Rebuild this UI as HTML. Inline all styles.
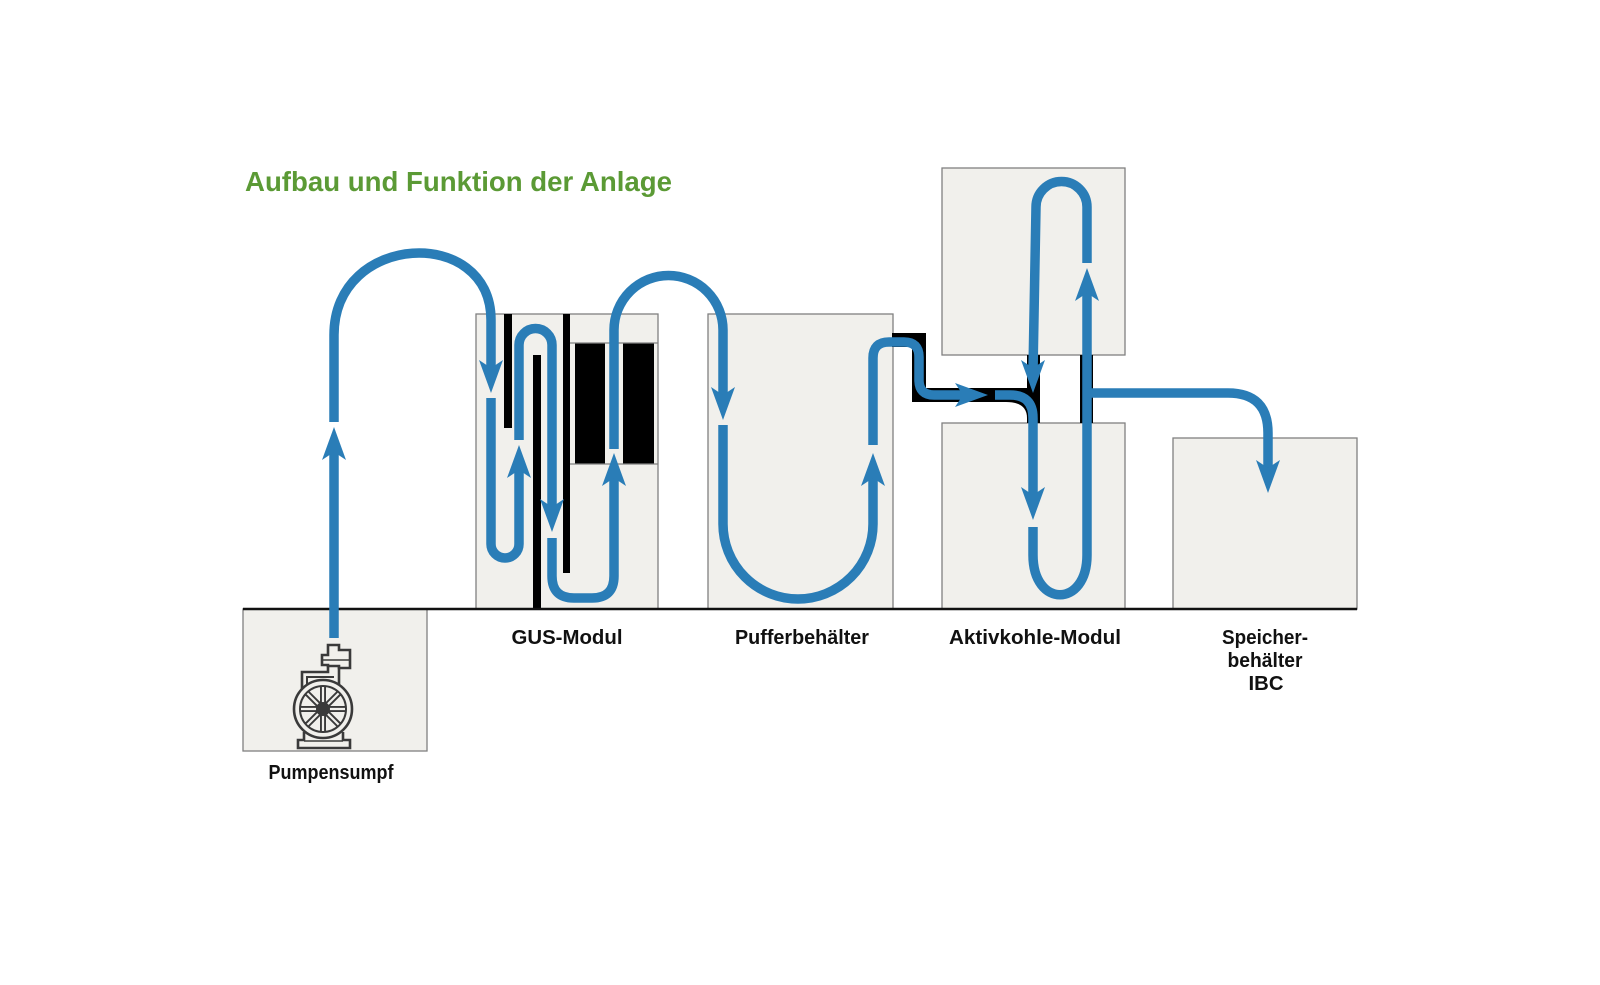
<!DOCTYPE html>
<html>
<head>
<meta charset="utf-8">
<style>
  html, body { margin:0; padding:0; background:#ffffff; }
  svg { display:block; }
  text { font-family: "Liberation Sans", "DejaVu Sans", sans-serif; font-weight: bold; }
</style>
</head>
<body>
<svg width="1600" height="985" viewBox="0 0 1600 985" xmlns="http://www.w3.org/2000/svg">
  <rect x="0" y="0" width="1600" height="985" fill="#ffffff"/>

  <!-- Title -->
  <text x="245" y="191" font-size="28" fill="#5b9a35" textLength="427" lengthAdjust="spacingAndGlyphs">Aufbau und Funktion der Anlage</text>

  <!-- Boxes -->
  <g fill="#f1f0ec" stroke="#808080" stroke-width="1.3">
    <rect x="243" y="609" width="184" height="142"/>
    <rect x="476" y="314" width="182" height="295"/>
    <rect x="708" y="314" width="185" height="295"/>
    <rect x="942" y="168" width="183" height="187"/>
    <rect x="942" y="423" width="183" height="186"/>
    <rect x="1173" y="438" width="184" height="171"/>
  </g>

  <!-- GUS internals -->
  <g fill="#000">
    <rect x="504" y="314" width="8" height="114"/>
    <rect x="533" y="355" width="8" height="254"/>
    <rect x="563" y="314" width="7" height="259"/>
    <rect x="575" y="343" width="30" height="121"/>
    <rect x="623" y="343" width="31" height="121"/>
  </g>
  <g stroke="#808080" stroke-width="1.3">
    <line x1="570" y1="343" x2="658" y2="343"/>
    <line x1="570" y1="464" x2="658" y2="464"/>
  </g>

  <!-- Black housing / connectors -->
  <path d="M892,340 L919,340 L919,395 L1002,395" fill="none" stroke="#000" stroke-width="14" stroke-linejoin="miter"/>
  <path d="M998,388 L1040,388 L1040,423 L1027,423 L1027,418 Q1027,402 1006,402 L998,402 Z" fill="#000"/>
  <rect x="1027" y="355" width="13" height="68" fill="#000"/>
  <rect x="1080" y="355" width="13" height="68" fill="#000"/>

  <!-- Baseline -->
  <line x1="243" y1="609" x2="1357" y2="609" stroke="#111" stroke-width="2.5"/>

  <!-- Pipes -->
  <g fill="none" stroke="#2a7db7" stroke-width="9.5" stroke-linecap="butt" stroke-linejoin="round">
    <path d="M334,638 L334,449"/>
    <path d="M334,422 L334,335 C334,232 491,225 491,320 L491,371"/>
    <path d="M491,398 L491,544 A14,14 0 0 0 519,544 L519,467"/>
    <path d="M519,440 L519,345 A16.5,16.5 0 0 1 552,345 L552,510"/>
    <path d="M552,538 L552,576 Q552,598 574,598 L592,598 Q614,598 614,576 L614,475"/>
    <path d="M614,449 L614,330 A54.5,54.5 0 0 1 723,330 L723,398"/>
    <path d="M723,425 L723,524 A75,75 0 0 0 873,524 L873,475"/>
    <path d="M873,445 L873,358 Q873,342 889,342 L904,342 Q919,342 919,357 L919,380 Q919,395 934,395 L966,395"/>
    <path d="M995,395 L1010,395 Q1033,395 1033,418 L1033,498"/>
    <path d="M1033,527 L1033,555 C1033,608 1087,608 1087,555 L1087,290"/>
    <path d="M1087,263 L1087,207 A25.5,25.5 0 0 0 1036,207 L1033,371"/>
    <path d="M1087,393 L1228,393 Q1268,393 1268,433 L1268,471"/>
  </g>

  <!-- Arrowheads -->
  <g fill="#2a7db7">
    <polygon points="334,427 346,460 334,452 322,460"/>
    <polygon points="519,445 531,478 519,470 507,478"/>
    <polygon points="614,453 626,486 614,478 602,486"/>
    <polygon points="873,453 885,486 873,478 861,486"/>
    <polygon points="1087,268 1099,301 1087,293 1075,301"/>
    <polygon points="491,393 503,360 491,368 479,360"/>
    <polygon points="552,532 564,499 552,507 540,499"/>
    <polygon points="723,420 735,387 723,395 711,387"/>
    <polygon points="1033,393 1045,360 1033,368 1021,360"/>
    <polygon points="1033,520 1045,487 1033,495 1021,487"/>
    <polygon points="1268,493 1280,460 1268,468 1256,460"/>
    <polygon points="988,395 955,383 963,395 955,407"/>
  </g>

  <!-- Pump icon -->
  <g fill="#f1f0ec" stroke="#3a3a3a" stroke-width="2.6" stroke-linejoin="miter">
    <path d="M304,732 L304,740 L298,740 L298,748 L350,748 L350,740 L343,740 L343,732"/>
    <line x1="304" y1="741" x2="343" y2="741" stroke-width="1.6"/>
    <path d="M328,664 L328,672 L302,672 L302,692" fill="none"/>
    <path d="M334,677 L307,677 L307,690" fill="none" stroke-width="2"/>
    <line x1="339" y1="666" x2="339" y2="688"/>
    <path d="M328,645 L339,645 L339,650 L350,650 L350,668 L339,668 L339,666 L328,666 L328,665 L322,665 L322,655 L328,655 Z"/>
    <line x1="322" y1="660" x2="350" y2="660" stroke-width="1.6"/>
    <circle cx="323" cy="709" r="29"/>
    <circle cx="323" cy="709" r="23" stroke-width="2"/>
  </g>
  <g stroke="#3a3a3a" stroke-width="6" stroke-linecap="butt">
    <line x1="323" y1="686" x2="323" y2="732"/>
    <line x1="300" y1="709" x2="346" y2="709"/>
    <line x1="306.7" y1="692.7" x2="339.3" y2="725.3"/>
    <line x1="339.3" y1="692.7" x2="306.7" y2="725.3"/>
  </g>
  <g stroke="#f1f0ec" stroke-width="2.2" stroke-linecap="butt">
    <line x1="323" y1="687" x2="323" y2="731"/>
    <line x1="301" y1="709" x2="345" y2="709"/>
    <line x1="307.4" y1="693.4" x2="338.6" y2="724.6"/>
    <line x1="338.6" y1="693.4" x2="307.4" y2="724.6"/>
  </g>
  <circle cx="323" cy="709" r="7" fill="#3a3a3a"/>

  <!-- Labels -->
  <g font-size="20" fill="#111" text-anchor="middle">
    <text x="567" y="644" textLength="111" lengthAdjust="spacingAndGlyphs">GUS-Modul</text>
    <text x="802" y="644" textLength="134" lengthAdjust="spacingAndGlyphs">Pufferbehälter</text>
    <text x="1035" y="644" textLength="172" lengthAdjust="spacingAndGlyphs">Aktivkohle-Modul</text>
    <text x="1265" y="644" textLength="86" lengthAdjust="spacingAndGlyphs">Speicher-</text>
    <text x="1265" y="667" textLength="75" lengthAdjust="spacingAndGlyphs">behälter</text>
    <text x="1266" y="690" textLength="35" lengthAdjust="spacingAndGlyphs">IBC</text>
    <text x="331" y="779" textLength="125" lengthAdjust="spacingAndGlyphs">Pumpensumpf</text>
  </g>
</svg>
</body>
</html>
